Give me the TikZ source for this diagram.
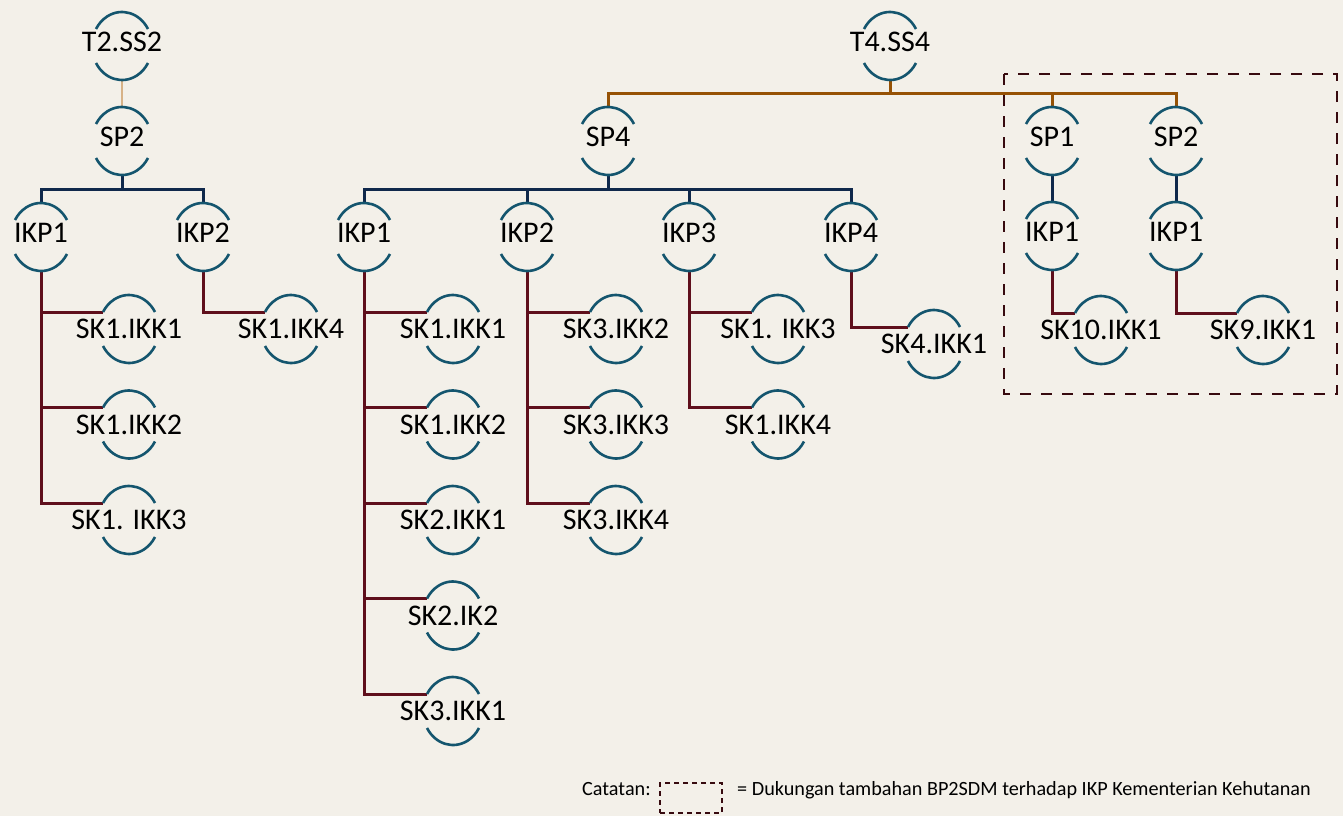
\documentclass[tikz,border=0pt]{standalone}
\usepackage{fontspec}
\setmainfont{Carlito}
\usepackage{tikz}
\usetikzlibrary{shapes.geometric,calc}
\definecolor{paper}{RGB}{243,240,233}
\definecolor{arcteal}{RGB}{20,85,110}
\definecolor{navy}{RGB}{15,40,75}
\definecolor{wine}{RGB}{95,15,28}
\definecolor{rust}{RGB}{150,82,5}
\definecolor{sand}{RGB}{215,178,135}
\definecolor{boxline}{RGB}{55,10,15}

\begin{document}
\begin{tikzpicture}[x=1pt, y=-1pt, font=\fontsize{30}{36}\selectfont,
  oval/.style={ellipse, minimum width=60pt, minimum height=68pt, inner sep=0pt, outer sep=0pt},
  ind/.style={oval, label={center:#1}},
  topind/.style={oval, label={[yshift=4pt]center:#1}},
  rim/.style={draw=arcteal, line width=2.6pt},
  stem/.style={draw=navy, line width=3pt},
  twig/.style={draw=wine, line width=3pt},
  trunk/.style={draw=rust, line width=3pt},
  note/.style={font=\fontsize{20.2}{24}\selectfont, anchor=base west, inner sep=0pt}]
  \fill[paper] (0,0) rectangle (1343,816);
  \node[topind=T2.SS2] (t2)    at (122,46)  {};
  \node[topind=SP2]    (sp2l)  at (122,141) {};
  \node[topind=IKP1]   (ikp1l) at (41,237)  {};
  \node[topind=IKP2]   (ikp2l) at (203,237) {};
  \node[ind=SK1.IKK1]  (skLa)  at (129,329) {};
  \node[ind=SK1.IKK2]  (skLb)  at (129,424.5) {};
  \node[ind=SK1. IKK3] (skLc)  at (129,520) {};
  \node[ind=SK1.IKK4]  (skLd)  at (291,329) {};
  \node[topind=T4.SS4] (t4)    at (890,46)  {};
  \node[topind=SP4]    (sp4)   at (608,141) {};
  \node[topind=SP1]    (sp1r)  at (1052,141) {};
  \node[topind=SP2]    (sp2r)  at (1176,141) {};
  \node[topind=IKP1]   (ikpA)  at (364,237) {};
  \node[topind=IKP2]   (ikpB)  at (527,237) {};
  \node[topind=IKP3]   (ikpC)  at (689,237) {};
  \node[topind=IKP4]   (ikpD)  at (851,237) {};
  \node[topind=IKP1]   (ikpE)  at (1052,236) {};
  \node[topind=IKP1]   (ikpF)  at (1176,236) {};
  \node[ind=SK1.IKK1]  (skAa)  at (453,329) {};
  \node[ind=SK1.IKK2]  (skAb)  at (453,424.5) {};
  \node[ind=SK2.IKK1]  (skAc)  at (453,520) {};
  \node[ind=SK2.IK2]   (skAd)  at (453,615.5) {};
  \node[ind=SK3.IKK1]  (skAe)  at (453,711) {};
  \node[ind=SK3.IKK2]  (skBa)  at (616,329) {};
  \node[ind=SK3.IKK3]  (skBb)  at (616,424.5) {};
  \node[ind=SK3.IKK4]  (skBc)  at (616,520) {};
  \node[ind=SK1. IKK3] (skCa)  at (778,329) {};
  \node[ind=SK1.IKK4]  (skCb)  at (778,424.5) {};
  \node[ind=SK4.IKK1]  (skD)   at (934,344) {};
  \node[ind=SK10.IKK1] (skR1)  at (1101,330) {};
  \node[ind=SK9.IKK1]  (skR2)  at (1263,330) {};

  \draw[sand, line width=2.4pt] (t2) -- (sp2l);
  \draw[stem] (sp2l.south) -- ++(0,14) coordinate (barL);
  \foreach \n in {ikp1l,ikp2l} \draw[stem] (\n.north) |- (barL);
  \foreach \n in {skLa,skLb,skLc} \draw[twig] (ikp1l.south) |- (\n.147);
  \draw[twig] (ikp2l.south) |- (skLd.147);

  \draw[trunk] (t4.south) -- ++(0,13) coordinate (barT);
  \foreach \n in {sp4,sp1r,sp2r} \draw[trunk] (\n.north) |- (barT);
  \draw[stem] (sp4.south) -- ++(0,14) coordinate (barM);
  \foreach \n in {ikpA,ikpB,ikpC,ikpD} \draw[stem] (\n.north) |- (barM);
  \foreach \n in {skAa,skAb,skAc,skAd,skAe} \draw[twig] (ikpA.south) |- (\n.147);
  \foreach \n in {skBa,skBb,skBc} \draw[twig] (ikpB.south) |- (\n.147);
  \foreach \n in {skCa,skCb} \draw[twig] (ikpC.south) |- (\n.147);
  \draw[twig] (ikpD.south) |- (skD.147);
  \draw[stem] (sp1r) -- (ikpE);
  \draw[stem] (sp2r) -- (ikpF);
  \draw[twig] (ikpE.south) |- (skR1.147);
  \draw[twig] (ikpF.south) |- (skR2.147);

  \foreach \n in {t2,sp2l,ikp1l,ikp2l,skLa,skLb,skLc,skLd,t4,sp4,sp1r,sp2r,
                  ikpA,ikpB,ikpC,ikpD,ikpE,ikpF,skAa,skAb,skAc,skAd,skAe,
                  skBa,skBb,skBc,skCa,skCb,skD,skR1,skR2} {
    \draw[rim] ([shift={(30:30pt and 34pt)}]\n.center) arc[start angle=30, end angle=150, x radius=30pt, y radius=34pt];
    \draw[rim] ([shift={(210:30pt and 34pt)}]\n.center) arc[start angle=210, end angle=330, x radius=30pt, y radius=34pt];
  }

  \draw[draw=boxline, line width=2.8pt, dash pattern=on 11pt off 10pt] (1004,74) rectangle (1337,394);

  \node[note] (catatan) at (582,795) {Catatan:};
  \node[draw=boxline, line width=2.4pt, dash pattern=on 5pt off 4pt, minimum width=62pt,
        minimum height=30pt, inner sep=0pt] (key) at (691,798) {};
  \node[note] (keytext) at (737,795) {= Dukungan tambahan BP2SDM terhadap IKP Kementerian Kehutanan};
\end{tikzpicture}
\end{document}
